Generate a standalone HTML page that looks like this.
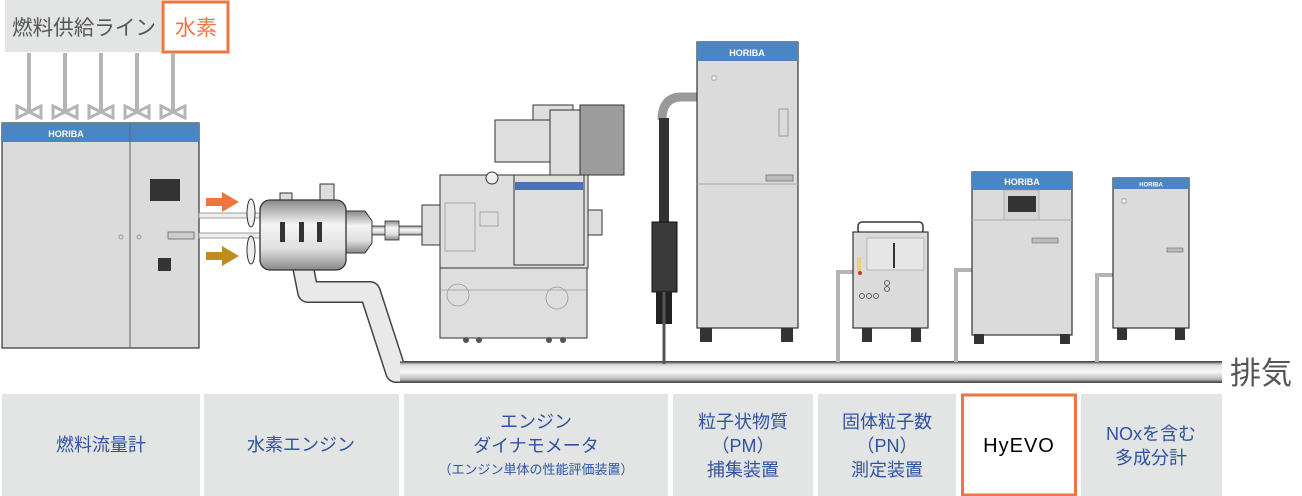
<!DOCTYPE html>
<html><head><meta charset="utf-8"><style>
body{margin:0;background:#fff;}
svg{display:block;}
text{font-family:"Liberation Sans","Noto Sans CJK JP",sans-serif;}
</style></head><body>
<svg width="1302" height="496" viewBox="0 0 1302 496" xmlns="http://www.w3.org/2000/svg">
<defs>
<linearGradient id="pipeH" x1="0" y1="0" x2="0" y2="1">
<stop offset="0" stop-color="#777"/><stop offset="0.15" stop-color="#ddd"/><stop offset="0.5" stop-color="#fafafa"/><stop offset="0.85" stop-color="#bbb"/><stop offset="1" stop-color="#666"/></linearGradient>
<linearGradient id="eng" x1="0" y1="0" x2="0" y2="1">
<stop offset="0" stop-color="#888"/><stop offset="0.35" stop-color="#f4f4f4"/><stop offset="0.7" stop-color="#e0e0e0"/><stop offset="1" stop-color="#888"/></linearGradient>
</defs>

<!-- top supply label -->
<rect x="5" y="0" width="156" height="52" fill="#e3e4e4"/>
<text x="12" y="35" font-size="21" fill="#555" textLength="144" lengthAdjust="spacingAndGlyphs">燃料供給ライン</text>
<rect x="163" y="2" width="65" height="50" fill="#fff" stroke="#ee7440" stroke-width="3"/>
<text x="175" y="35" font-size="21" fill="#ee7440">水素</text>
<!-- supply lines and valves -->
<g stroke="#b4b4b4" stroke-width="4" fill="none">
<line x1="29" y1="53" x2="29" y2="112"/><line x1="65" y1="53" x2="65" y2="112"/><line x1="101" y1="53" x2="101" y2="112"/><line x1="137" y1="53" x2="137" y2="112"/><line x1="173" y1="53" x2="173" y2="112"/>
</g>
<g fill="none" stroke="#b4b4b4" stroke-width="3">
<path d="M17 106 L41 118 L41 106 L17 118 Z"/><path d="M53 106 L77 118 L77 106 L53 118 Z"/><path d="M89 106 L113 118 L113 106 L89 118 Z"/><path d="M125 106 L149 118 L149 106 L125 118 Z"/><path d="M161 106 L185 118 L185 106 L161 118 Z"/>
</g>

<!-- fuel flow cabinet -->
<rect x="2" y="123" width="197" height="225" fill="#dcdbdc" stroke="#333" stroke-width="1.2"/>
<rect x="2" y="123" width="197" height="19" fill="#4a86c4"/>
<line x1="130" y1="123" x2="130" y2="348" stroke="#666" stroke-width="1"/>
<text x="66" y="137" font-size="9" font-weight="bold" fill="#fff" text-anchor="middle">HORIBA</text>
<rect x="150" y="179" width="30" height="22" fill="#333"/>
<rect x="168" y="232" width="26" height="7" fill="#ccc" stroke="#666" stroke-width="0.8"/>
<rect x="158" y="258" width="13" height="13" fill="#333"/>
<circle cx="121" cy="237" r="2" fill="none" stroke="#999"/><circle cx="139" cy="237" r="2" fill="none" stroke="#999"/>
<!-- fuel pipes to engine -->
<rect x="199" y="213" width="64" height="5" fill="#eee" stroke="#888" stroke-width="0.8"/>
<rect x="199" y="233" width="64" height="5" fill="#eee" stroke="#888" stroke-width="0.8"/>
<!-- arrows -->
<path d="M206 198 H222 V192 L239 202 L222 212 V206 H206 Z" fill="#ee7440"/>
<path d="M206 252 H222 V246 L239 256 L222 266 V260 H206 Z" fill="#bf8d1f"/>

<!-- exhaust pipe from engine -->
<path d="M302 262 L308 292 L370 292 L396 372 L1222 372" fill="none" stroke="#444" stroke-width="22" stroke-linejoin="round"/>
<path d="M302 262 L308 292 L370 292 L396 372 L1222 372" fill="none" stroke="#e9e9e9" stroke-width="19" stroke-linejoin="round"/>
<rect x="400" y="362" width="822" height="20" fill="url(#pipeH)"/>
<line x1="400" y1="362" x2="1222" y2="362" stroke="#555" stroke-width="1.2"/>
<line x1="400" y1="382" x2="1222" y2="382" stroke="#555" stroke-width="1.2"/>
<text x="1230" y="384" font-size="31" fill="#555">排気</text>

<!-- engine -->
<ellipse cx="251" cy="213" rx="4" ry="14" fill="#eee" stroke="#333"/>
<ellipse cx="251" cy="250" rx="4" ry="14" fill="#eee" stroke="#333"/>
<rect x="280" y="193" width="12" height="10" fill="#ddd" stroke="#333"/>
<rect x="320" y="184" width="14" height="20" fill="#ddd" stroke="#333"/>
<path d="M345 211 H365 L372 221 V243 L365 253 H345 Z" fill="url(#eng)" stroke="#333"/>
<rect x="372" y="226" width="50" height="9" fill="url(#eng)" stroke="#333" stroke-width="0.8"/>
<rect x="385" y="221" width="14" height="19" fill="url(#eng)" stroke="#333" stroke-width="0.8"/>
<rect x="260" y="200" width="86" height="70" rx="10" fill="url(#eng)" stroke="#333" stroke-width="1.3"/>
<rect x="280" y="222" width="5" height="20" fill="#333"/><rect x="299" y="222" width="5" height="20" fill="#333"/><rect x="317" y="222" width="5" height="20" fill="#333"/>

<!-- dynamometer -->
<g stroke="#333" stroke-width="1" fill="#dedede">
<rect x="422" y="205" width="18" height="40"/>
<rect x="533" y="105" width="40" height="40"/>
<rect x="580" y="105" width="44" height="70" fill="#9c9c9c"/>
<rect x="550" y="110" width="30" height="68"/>
<rect x="495" y="120" width="55" height="42"/>
<rect x="440" y="175" width="148" height="93"/>
<rect x="440" y="268" width="147" height="70"/>
<rect x="514" y="175" width="70" height="90"/>
<rect x="588" y="210" width="14" height="25"/>
</g>
<rect x="515" y="182" width="68" height="8" fill="#4a73b4"/>
<g fill="none" stroke="#999" stroke-width="0.8">
<rect x="445" y="203" width="30" height="48"/>
<rect x="480" y="212" width="18" height="14"/>
<circle cx="458" cy="295" r="11"/><circle cx="557" cy="298" r="11"/>
<line x1="440" y1="290" x2="587" y2="290"/>
</g>
<circle cx="492" cy="178" r="6" fill="#eee" stroke="#333"/>
<circle cx="466" cy="340" r="3" fill="#555"/><circle cx="479" cy="340" r="3" fill="#555"/><circle cx="549" cy="340" r="3" fill="#555"/><circle cx="563" cy="340" r="3" fill="#555"/>

<!-- PM sampler -->
<path d="M697 97 H680 Q662 98 662 120" fill="none" stroke="#999" stroke-width="9"/>
<rect x="659" y="118" width="10" height="108" fill="#333"/>
<rect x="652" y="222" width="25" height="70" fill="#3a3a3a" stroke="#111"/>
<rect x="656" y="292" width="16" height="32" fill="#222"/>
<line x1="664" y1="292" x2="664" y2="364" stroke="#555" stroke-width="3"/>
<rect x="697" y="42" width="101" height="286" fill="#dcdbdc" stroke="#333" stroke-width="1.2"/>
<rect x="697" y="42" width="101" height="19" fill="#4a86c4"/>
<text x="747" y="56" font-size="9" font-weight="bold" fill="#fff" text-anchor="middle">HORIBA</text>
<line x1="697" y1="184" x2="798" y2="184" stroke="#aaa"/>
<rect x="712" y="76" width="4" height="4" fill="#fff" stroke="#777" stroke-width="0.6"/>
<rect x="779" y="109" width="9" height="27" fill="none" stroke="#999"/>
<rect x="766" y="175" width="27" height="6" fill="#bbb" stroke="#555" stroke-width="0.6"/>
<rect x="700" y="328" width="12" height="14" fill="#333"/><rect x="781" y="328" width="12" height="14" fill="#333"/>

<!-- sampling lines from exhaust -->
<path d="M838 362 V272 H853" fill="none" stroke="#b4b4b4" stroke-width="4"/>
<path d="M956 362 V270 H972" fill="none" stroke="#b4b4b4" stroke-width="4"/>
<path d="M1097 362 V275 H1114" fill="none" stroke="#b4b4b4" stroke-width="4"/>

<!-- PN device -->
<rect x="858" y="222" width="65" height="12" rx="4" fill="none" stroke="#333" stroke-width="1.5"/>
<rect x="853" y="232" width="75" height="96" fill="#dcdbdc" stroke="#333" stroke-width="1.2"/>
<rect x="867" y="238" width="57" height="32" fill="#e6e6e6" stroke="#999" stroke-width="0.6"/>
<rect x="893" y="243" width="2" height="25" fill="#333"/>
<rect x="857" y="257" width="4" height="15" fill="#e7d27a"/>
<circle cx="860" cy="273" r="2" fill="#c33"/>
<g fill="none" stroke="#444" stroke-width="0.8"><circle cx="862" cy="296" r="2.5"/><circle cx="869" cy="296" r="2.5"/><circle cx="876" cy="296" r="2.5"/><circle cx="887" cy="283" r="2.5"/><circle cx="887" cy="289" r="2.5"/></g>
<rect x="862" y="328" width="10" height="14" fill="#333"/><rect x="911" y="328" width="10" height="14" fill="#333"/>

<!-- HyEVO cabinet -->
<rect x="972" y="172" width="100" height="163" fill="#dcdbdc" stroke="#333" stroke-width="1.2"/>
<rect x="972" y="172" width="100" height="18" fill="#4a86c4"/>
<text x="1022" y="185" font-size="9" font-weight="bold" fill="#fff" text-anchor="middle">HORIBA</text>
<rect x="1004" y="190" width="35" height="30" fill="#d4d4d4" stroke="#999" stroke-width="0.6"/>
<rect x="1008" y="196" width="28" height="16" fill="#333"/>
<line x1="972" y1="220" x2="1072" y2="220" stroke="#aaa"/>
<rect x="1032" y="238" width="26" height="5" fill="#bbb" stroke="#555" stroke-width="0.5"/>
<rect x="974" y="334" width="10" height="10" fill="#333"/><rect x="1060" y="334" width="10" height="10" fill="#333"/>

<!-- NOx cabinet -->
<rect x="1113" y="178" width="76" height="150" fill="#dcdbdc" stroke="#333" stroke-width="1.2"/>
<rect x="1113" y="178" width="76" height="11" fill="#4a86c4"/>
<text x="1151" y="186.5" font-size="6" font-weight="bold" fill="#fff" text-anchor="middle">HORIBA</text>
<rect x="1122" y="199" width="4" height="4" fill="#fff" stroke="#777" stroke-width="0.6"/>
<rect x="1167" y="248" width="16" height="4" fill="#bbb" stroke="#555" stroke-width="0.5"/>
<rect x="1117" y="328" width="10" height="12" fill="#333"/><rect x="1175" y="328" width="10" height="12" fill="#333"/>

<!-- bottom labels -->
<g fill="#e3e4e4">
<rect x="2" y="394" width="198" height="102"/><rect x="204" y="394" width="195" height="102"/>
<rect x="404" y="394" width="264" height="102"/><rect x="673" y="394" width="140" height="102"/>
<rect x="818" y="394" width="138" height="102"/><rect x="1081" y="394" width="141" height="102"/>
</g>
<rect x="962.5" y="395" width="113" height="100" fill="#fff" stroke="#ee7440" stroke-width="3"/>
<g fill="#2f53a0" font-size="18" text-anchor="middle">
<text x="101" y="451">燃料流量計</text>
<text x="301" y="451">水素エンジン</text>
<text x="536" y="428">エンジン</text>
<text x="536" y="452">ダイナモメータ</text>
<text x="536" y="474" font-size="13">（エンジン単体の性能評価装置）</text>
<text x="743" y="428">粒子状物質</text>
<text x="743" y="452">（PM）</text>
<text x="743" y="476">捕集装置</text>
<text x="887" y="428">固体粒子数</text>
<text x="887" y="452">（PN）</text>
<text x="887" y="476">測定装置</text>
<text x="1151" y="440">NOxを含む</text>
<text x="1151" y="464">多成分計</text>
</g>
<text x="1019" y="452" font-size="20" fill="#000" text-anchor="middle" letter-spacing="1">HyEVO</text>
</svg>
</body></html>
